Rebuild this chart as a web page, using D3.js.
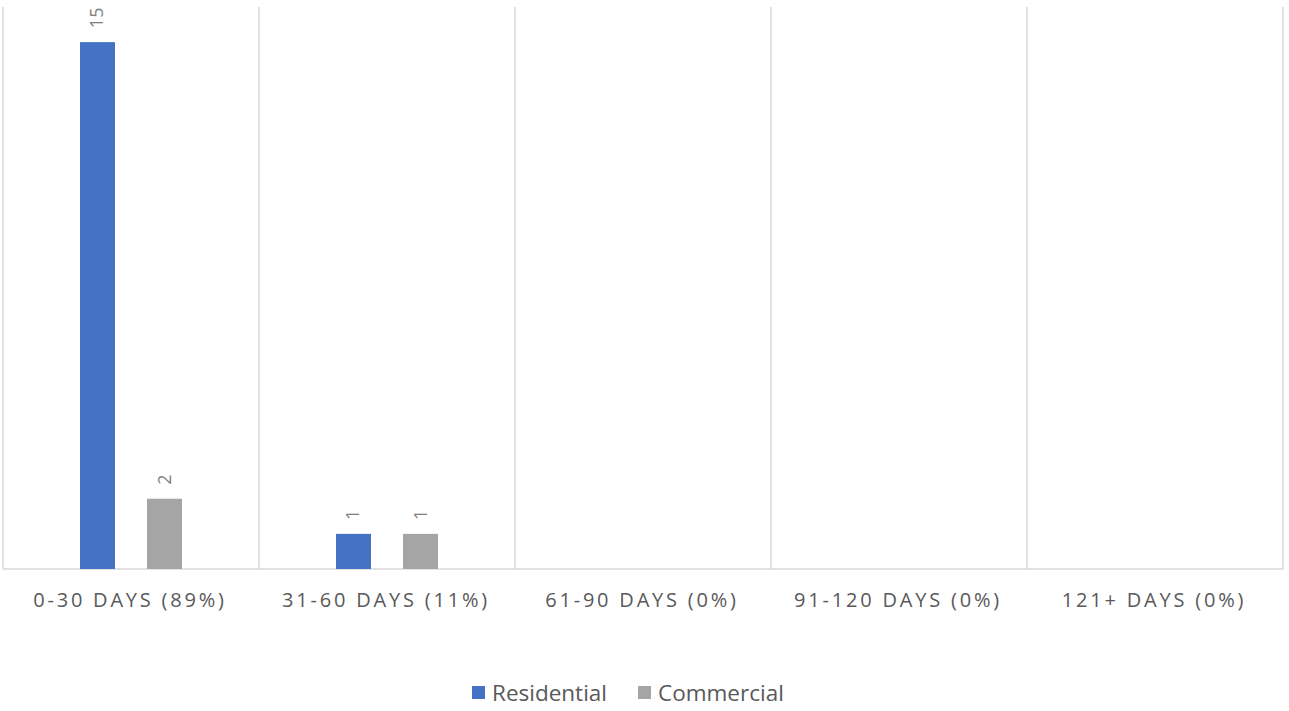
<!DOCTYPE html>
<html>
<head>
<meta charset="utf-8">
<script src="https://cdn.jsdelivr.net/npm/d3@7"></script>
<style>
  html, body { margin: 0; padding: 0; background: #fff; }
  svg text { font-family: "Open Sans", "Liberation Sans", sans-serif; }
</style>
</head>
<body>
<svg id="chart" width="1289" height="711"></svg>
<script>
// Aging buckets and counts per customer type
const categories = ["0-30 DAYS (89%)", "31-60 DAYS (11%)", "61-90 DAYS (0%)", "91-120 DAYS (0%)", "121+ DAYS (0%)"];
const seriesNames = ["Residential", "Commercial"];
const residential = [15, 1, null, null, null];
const commercial = [2, 1, null, null, null];
const colors = ["#4472C4", "#A5A5A5"];

const svg = d3.select("#chart");
const plotLeft = 3, plotRight = 1283, plotTop = 7, plotBottom = 569;

const x = d3.scaleBand().domain(categories).range([plotLeft, plotRight]).paddingInner(0).paddingOuter(0);
const x1 = d3.scaleBand().domain(seriesNames).range([0, x.bandwidth()]).paddingInner(0.478).paddingOuter(1.149);
const y = d3.scaleLinear().domain([0, 16]).range([plotBottom, plotTop]);

// vertical category separators
const seps = categories.map(c => x(c)).concat([x(categories[categories.length - 1]) + x.bandwidth()]);
svg.append("g").selectAll("line").data(seps).join("line")
  .attr("x1", d => d).attr("x2", d => d)
  .attr("y1", plotTop).attr("y2", plotBottom)
  .attr("stroke", "#D9D9D9").attr("stroke-width", 1.5);

// baseline
svg.append("line").attr("x1", plotLeft).attr("x2", plotRight)
  .attr("y1", plotBottom).attr("y2", plotBottom)
  .attr("stroke", "#D9D9D9").attr("stroke-width", 1.5);

const rows = [];
categories.forEach((c, i) => {
  [residential[i], commercial[i]].forEach((v, j) => {
    if (v != null) rows.push({ cat: c, series: seriesNames[j], value: v, color: colors[j] });
  });
});

const g = svg.append("g");
g.selectAll("rect").data(rows).join("rect")
  .attr("x", d => x(d.cat) + x1(d.series))
  .attr("width", x1.bandwidth())
  .attr("y", d => y(d.value))
  .attr("height", d => y(0) - y(d.value))
  .attr("fill", d => d.color);

// rotated value labels
g.selectAll("text.val").data(rows).join("text")
  .attr("class", "val")
  .attr("transform", d => `translate(${x(d.cat) + x1(d.series) + x1.bandwidth() / 2 + 6},${y(d.value) - 14}) rotate(-90)`)
  .attr("text-anchor", "start")
  .attr("font-size", 18)
  .attr("fill", "#7F7F7F")
  .text(d => d.value);

// category labels
svg.append("g").selectAll("text").data(categories).join("text")
  .attr("x", d => x(d) + x.bandwidth() / 2 - 1)
  .attr("y", 607)
  .attr("text-anchor", "middle")
  .attr("font-size", 20)
  .attr("letter-spacing", "2.8px")
  .attr("fill", "#595959")
  .text(d => d);

// legend
const legendItems = [
  { name: seriesNames[0], color: colors[0], sx: 472, tx: 492 },
  { name: seriesNames[1], color: colors[1], sx: 638, tx: 658 }
];
const lg = svg.append("g");
lg.selectAll("rect").data(legendItems).join("rect")
  .attr("x", d => d.sx).attr("y", 686).attr("width", 13).attr("height", 13)
  .attr("fill", d => d.color);
lg.selectAll("text").data(legendItems).join("text")
  .attr("x", d => d.tx).attr("y", 701)
  .attr("font-size", 22.5)
  .attr("fill", "#595959")
  .text(d => d.name);
</script>
</body>
</html>
